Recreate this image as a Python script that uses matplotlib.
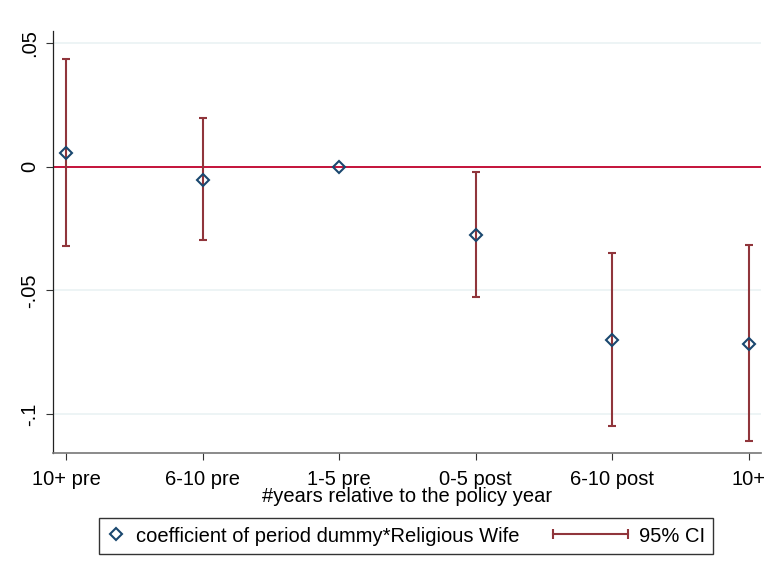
import numpy as np
import matplotlib
matplotlib.use('Agg')
import matplotlib.pyplot as plt
from matplotlib.lines import Line2D
from matplotlib.legend_handler import HandlerBase, HandlerLine2D

# Chart data
periods = ['10+ pre', '6-10 pre', '1-5 pre', '0-5 post', '6-10 post', '10+']
coef = [0.0054, -0.0054, 0.0, -0.0276, -0.0699, -0.0715]
ci_low = [-0.0321, -0.0298, np.nan, -0.0525, -0.1048, -0.1108]
ci_high = [0.0433, 0.0196, np.nan, -0.0020, -0.0347, -0.0317]
ytick_vals = [0.05, 0.0, -0.05, -0.1]
ytick_labels = ['.05', '0', '-.05', '-.1']

ci_color = '#90353B'
marker_color = '#1A476F'
zero_color = '#C4123A'

plt.rcParams['font.family'] = ['Liberation Sans', 'DejaVu Sans']
fs = 14.5

fig = plt.figure(figsize=(7.71, 5.82), dpi=100)
fig.patch.set_facecolor('white')
ax = fig.add_axes([53 / 771, 1 - 453 / 582, (761 - 53) / 771, (453 - 31) / 582])

x = np.arange(len(periods))
# grid lines
for v in ytick_vals:
    ax.axhline(v, color='#EAF2F3', linewidth=1.2, zorder=0)
# zero line
ax.axhline(0, color=zero_color, linewidth=1.4, zorder=1)

# confidence intervals
ok = ~np.isnan(ci_low)
ax.vlines(x[ok], np.array(ci_low)[ok], np.array(ci_high)[ok], color=ci_color, linewidth=1.5, zorder=2)
ax.plot(x[ok], np.array(ci_low)[ok], linestyle='none', marker='_', markersize=6, markeredgewidth=1.5, color=ci_color, zorder=2)
ax.plot(x[ok], np.array(ci_high)[ok], linestyle='none', marker='_', markersize=6, markeredgewidth=1.5, color=ci_color, zorder=2)

# point estimates
ax.plot(x, coef, linestyle='none', marker='D', markersize=6.5, markerfacecolor='none',
        markeredgecolor=marker_color, markeredgewidth=1.5, zorder=3)

ax.set_xlim(-0.095, 5.09)
ax.set_ylim(-0.1157, 0.0548)
ax.set_xticks(x)
ax.set_xticklabels(periods, fontsize=fs)
ax.set_yticks(ytick_vals)
ax.set_yticklabels(ytick_labels, fontsize=fs, rotation=90, va='center')
ax.tick_params(axis='both', length=5, width=0.8, color='#333333')
ax.tick_params(axis='x', pad=7)
ax.tick_params(axis='y', pad=5)
ax.set_xlabel('#years relative to the policy year', fontsize=fs, labelpad=-1)

ax.spines['top'].set_visible(False)
ax.spines['right'].set_visible(False)
ax.spines['left'].set_color('#222222')
ax.spines['bottom'].set_color('#777777')
ax.spines['left'].set_linewidth(0.9)
ax.spines['bottom'].set_linewidth(1.2)


# Legend handle for the CI: horizontal line with caps, extending to the left
class CIHandler(HandlerBase):
    def create_artists(self, legend, orig_handle, xdescent, ydescent, width, height, fontsize, trans):
        x1 = -xdescent + width
        x0 = x1 - 54
        y = -ydescent + height / 2
        line = Line2D([x0, x1], [y, y], color=ci_color, linewidth=1.5, transform=trans)
        caps = Line2D([x0, x1], [y, y], linestyle='none', marker='|', markersize=7,
                      markeredgewidth=1.5, color=ci_color, transform=trans)
        return [line, caps]


coef_handle = Line2D([], [], linestyle='none', marker='D', markersize=6.5, markerfacecolor='none',
                     markeredgecolor=marker_color, markeredgewidth=1.5)
ci_handle = Line2D([], [], color=ci_color)

leg = fig.legend([coef_handle, ci_handle],
                 ['coefficient of period dummy*Religious Wife', '95% CI'],
                 handler_map={ci_handle: CIHandler(), coef_handle: HandlerLine2D(numpoints=1)},
                 loc='center', bbox_to_anchor=(406 / 771, 1 - 536 / 582),
                 ncol=2, fontsize=fs, frameon=True, fancybox=False,
                 handlelength=0.9, handletextpad=0.55, columnspacing=4.5,
                 borderpad=0.4, edgecolor='black')
leg.get_frame().set_linewidth(1.0)

fig.savefig('out.png', dpi=100, facecolor='white')
